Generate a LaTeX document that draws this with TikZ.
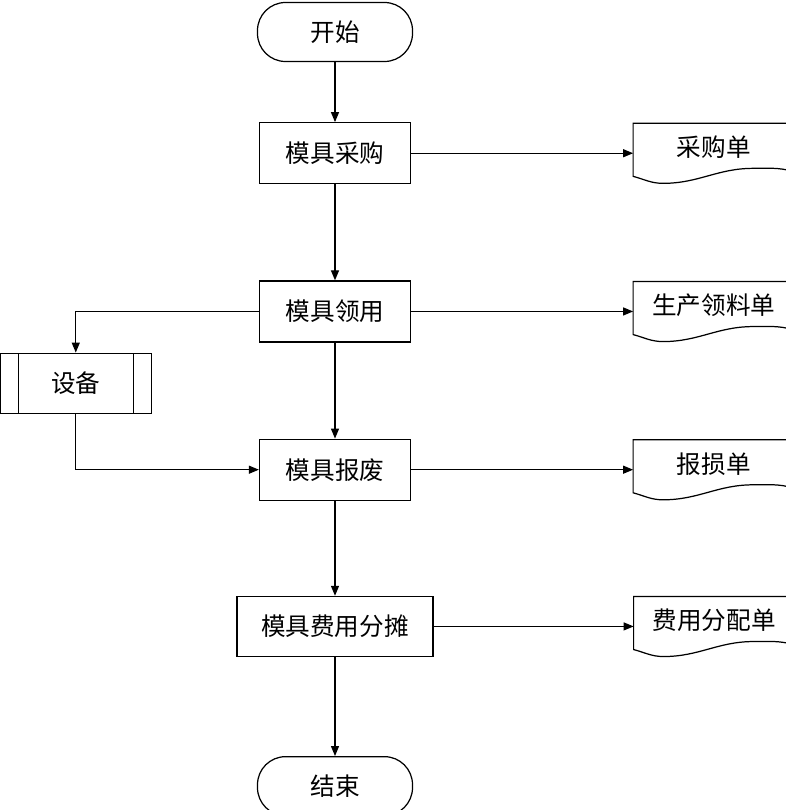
\documentclass[tikz,border=0pt]{standalone}
\usepackage{fontspec}
\usepackage{tikz}
\usetikzlibrary{arrows.meta, positioning}
\newfontfamily\cjk{Noto Sans CJK SC}

\begin{document}
\begin{tikzpicture}[font=\cjk\fontsize{14}{16}\selectfont, line width=0.7pt,
      term/.style={draw, rounded corners=0.56cm, minimum width=3.1cm, minimum height=1.18cm},
      proc/.style={draw, minimum width=3.02cm, minimum height=1.22cm},
      sub/.style={proc, minimum height=1.2cm, path picture={
          \draw ([xshift=0.36cm]path picture bounding box.north west) -- ([xshift=0.36cm]path picture bounding box.south west);
          \draw ([xshift=-0.36cm]path picture bounding box.north east) -- ([xshift=-0.36cm]path picture bounding box.south east);}},
      doc/.style={minimum width=3.2cm, minimum height=1.22cm, text height=0.44cm, text depth=0.3cm},
      arr/.style={-{Triangle[length=0.2cm, width=0.16cm]}}
    ]
  \useasboundingbox (-6.7,0.64) rectangle (9.0,-15.56);
  % main flow
  \node[term] (start) {开始};
  \node[proc, below=1.2cm of start] (caigou) {模具采购};
  \node[proc, below=1.92cm of caigou] (lingyong) {模具领用};
  \node[proc, below=1.92cm of lingyong] (baofei) {模具报废};
  \node[proc, below=1.9cm of baofei, minimum width=3.92cm, minimum height=1.2cm] (fentan) {模具费用分摊};
  \node[term, below=1.98cm of fentan] (end) {结束};
  \node[sub, below left=0.2cm and 2.14cm of lingyong] (shebei) {设备};
  % documents
  \node[doc, right=4.44cm of caigou] (d1) {采购单};
  \node[doc, right=4.44cm of lingyong] (d2) {生产领料单};
  \node[doc, right=4.44cm of baofei] (d3) {报损单};
  \node[doc, right=4.0cm of fentan] (d4) {费用分配单};
  \foreach \d in {d1,d2,d3,d4}
    \draw[shift={(\d.south west)}] (0,0.16) -- (0,1.22) -- (3.2,1.22) -- (3.2,0.26)
      to[out=165,in=0] (2.4,0.32) to[out=180,in=0] (0.6,0.02) to[out=180,in=-15] (0,0.16) -- cycle;

  \draw[arr] (start) -- (caigou);
  \draw[arr] (caigou) -- (lingyong);
  \draw[arr] (lingyong) -- (baofei);
  \draw[arr] (baofei) -- (fentan);
  \draw[arr] (fentan) -- (end);
  \foreach \p/\d in {caigou/d1, lingyong/d2, baofei/d3, fentan/d4}
    \draw[arr] (\p) -- (\d);
  \draw[arr] (lingyong.west) -| (shebei.north);
  \draw[arr] (shebei.south) |- (baofei.west);
\end{tikzpicture}
\end{document}
